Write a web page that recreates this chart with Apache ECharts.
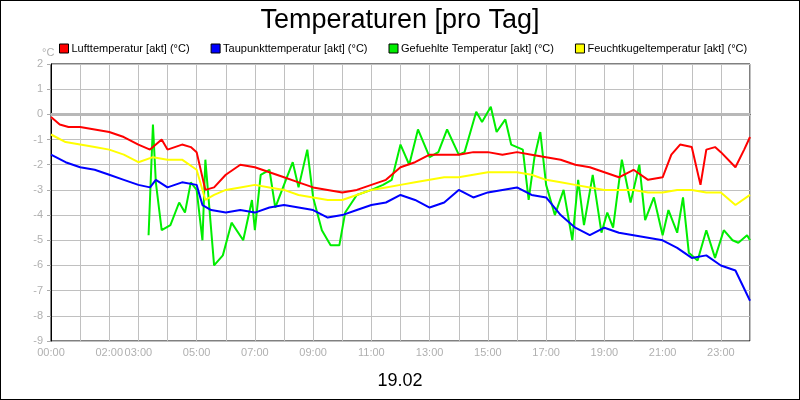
<!DOCTYPE html><html><head><meta charset="utf-8">
<script src="https://cdn.jsdelivr.net/npm/echarts@6/dist/echarts.min.js"></script>
<style>html,body{margin:0;padding:0;background:#fff}#c{width:800px;height:400px;box-sizing:border-box;border:1px solid #000}</style></head><body><div id="c"></div><script>
const title="Temperaturen [pro Tag]";
const dateLabel="19.02";
const xLabelHours=[0,2,3,5,7,9,11,13,15,17,19,21,23];
const seriesNames=["Lufttemperatur [akt] (°C)","Taupunkttemperatur [akt] (°C)","Gefuehlte Temperatur [akt] (°C)","Feuchtkugeltemperatur [akt] (°C)"];
const seriesColors=["#ff0000","#0000ff","#00ee00","#ffff00"];
const luftH=[0,0.3,0.6,1,1.5,2,2.5,3,3.4,3.8,4,4.5,4.8,5,5.3,5.6,6,6.5,7,7.5,8,8.5,9,9.5,10,10.5,11,11.5,12,12.5,13,13.5,14,14.5,15,15.5,16,16.5,17,17.5,18,18.5,19,19.5,20,20.5,21,21.3,21.6,22,22.3,22.5,22.8,23,23.5,23.8,24];
const luftV=[-0.1,-0.4,-0.5,-0.5,-0.6,-0.7,-0.9,-1.2,-1.4,-1.0,-1.4,-1.2,-1.3,-1.5,-3.0,-2.9,-2.4,-2.0,-2.1,-2.3,-2.5,-2.7,-2.9,-3.0,-3.1,-3.0,-2.8,-2.6,-2.1,-1.9,-1.6,-1.6,-1.6,-1.5,-1.5,-1.6,-1.5,-1.6,-1.7,-1.8,-2.0,-2.1,-2.3,-2.5,-2.2,-2.6,-2.5,-1.6,-1.2,-1.3,-2.8,-1.4,-1.3,-1.5,-2.1,-1.4,-0.9];
const tauH=[0,0.5,1,1.5,2,2.5,3,3.4,3.6,4,4.5,5,5.2,5.5,6,6.5,7,7.5,8,8.5,9,9.5,10,10.5,11,11.5,12,12.5,13,13.5,14,14.5,15,15.5,16,16.5,17,17.5,18,18.5,19,19.5,20,20.5,21,21.5,22,22.5,23,23.5,24];
const tauV=[-1.6,-1.9,-2.1,-2.2,-2.4,-2.6,-2.8,-2.9,-2.6,-2.9,-2.7,-2.8,-3.6,-3.8,-3.9,-3.8,-3.9,-3.7,-3.6,-3.7,-3.8,-4.1,-4.0,-3.8,-3.6,-3.5,-3.2,-3.4,-3.7,-3.5,-3.0,-3.3,-3.1,-3.0,-2.9,-3.2,-3.3,-4.0,-4.5,-4.8,-4.5,-4.7,-4.8,-4.9,-5.0,-5.3,-5.7,-5.6,-6.0,-6.2,-7.4];
const gefH=[3.35,3.5,3.6,3.8,4.1,4.4,4.6,4.8,5.0,5.2,5.3,5.6,5.9,6.2,6.6,6.9,7.0,7.2,7.5,7.7,8.0,8.3,8.5,8.8,9.0,9.3,9.6,9.9,10.1,10.5,11,11.4,11.7,12.0,12.3,12.6,13.0,13.3,13.6,14.0,14.2,14.4,14.6,14.8,15.1,15.3,15.6,15.8,16.2,16.4,16.6,16.8,17.0,17.3,17.6,17.9,18.1,18.3,18.6,18.9,19.1,19.3,19.6,19.9,20.2,20.4,20.7,21.0,21.2,21.5,21.7,21.9,22.2,22.5,22.8,23.1,23.4,23.6,23.9,24];
const gefV=[-4.8,-0.4,-2.7,-4.6,-4.4,-3.5,-3.9,-2.7,-3.0,-5.0,-1.8,-6.0,-5.6,-4.3,-5.0,-3.4,-4.6,-2.4,-2.2,-3.7,-2.8,-1.9,-2.9,-1.4,-3.3,-4.6,-5.2,-5.2,-3.9,-3.2,-3.0,-2.8,-2.6,-1.2,-2.0,-0.6,-1.7,-1.5,-0.6,-1.6,-1.5,-0.7,0.1,-0.3,0.3,-0.7,-0.2,-1.2,-1.4,-3.4,-1.7,-0.7,-2.8,-4.0,-3.0,-5.0,-2.6,-4.4,-2.4,-4.7,-3.9,-4.5,-1.8,-3.5,-2.0,-4.2,-3.3,-4.8,-3.8,-4.7,-3.3,-5.5,-5.8,-4.6,-5.7,-4.6,-5.0,-5.1,-4.8,-5.0];
const feuchtH=[0,0.5,1,1.5,2,2.5,3,3.5,4,4.5,5,5.3,5.6,6,6.5,7,7.5,8,8.5,9,9.5,10,10.5,11,11.5,12,12.5,13,13.5,14,14.5,15,15.5,16,16.5,17,17.5,18,18.5,19,19.5,20,20.5,21,21.5,22,22.5,23,23.5,24];
const feuchtV=[-0.8,-1.1,-1.2,-1.3,-1.4,-1.6,-1.9,-1.7,-1.8,-1.8,-2.2,-3.4,-3.2,-3.0,-2.9,-2.8,-2.9,-3.0,-3.2,-3.3,-3.4,-3.4,-3.2,-3.0,-2.9,-2.8,-2.7,-2.6,-2.5,-2.5,-2.4,-2.3,-2.3,-2.3,-2.4,-2.6,-2.7,-2.8,-2.9,-3.0,-3.0,-3.0,-3.1,-3.1,-3.0,-3.0,-3.1,-3.1,-3.6,-3.2];
const zip=(h,v)=>h.map((x,i)=>[x,v[i]]);
const allData=[zip(luftH,luftV),zip(tauH,tauV),zip(gefH,gefV),zip(feuchtH,feuchtV)];
const order=[2,3,1,0];
const ch=echarts.init(document.getElementById('c'));
const font="Liberation Sans";
ch.setOption({
 animation:false,
 textStyle:{fontFamily:font},
 title:[{text:title,left:'center',top:1,textStyle:{fontSize:27,fontWeight:'normal',color:'#000',fontFamily:font}},
  {text:dateLabel,left:'center',top:366,textStyle:{fontSize:18,fontWeight:'normal',color:'#000',fontFamily:font}},
  {text:'°C',left:36,top:41,textStyle:{fontSize:11,fontWeight:'normal',color:'#b0b0b0',fontFamily:font}}],
 legend:{top:37,left:53,itemWidth:9,itemHeight:9,itemGap:21,icon:'rect',
   data:seriesNames.map((n,i)=>({name:n,itemStyle:{color:seriesColors[i],borderColor:'#000',borderWidth:1}})),
   textStyle:{fontSize:11,color:'#000',fontFamily:font,padding:[0,0,0,-2]}},
 grid:{left:50,right:49,top:63,bottom:58,show:true,borderColor:'#000',borderWidth:1,containLabel:false},
 xAxis:{type:'value',min:0,max:24,interval:1,
  axisLine:{lineStyle:{color:'#000'}},axisTick:{show:true,length:5,lineStyle:{color:'#aaa'}},
  axisLabel:{color:'#b0b0b0',fontSize:11,margin:6,showMaxLabel:false,formatter:v=>xLabelHours.includes(v)?String(v).padStart(2,'0')+':00':''},
  splitLine:{lineStyle:{color:'#c0c0c0',width:1}}},
 yAxis:{type:'value',min:-9,max:2,interval:1,
  axisLine:{show:true,lineStyle:{color:'#000'}},axisTick:{show:true,length:4,inside:false,lineStyle:{color:'#aaa'}},
  axisLabel:{color:'#b0b0b0',fontSize:11,margin:8},
  splitLine:{lineStyle:{color:'#c0c0c0',width:1}}},
 series:[...order.map(i=>({name:seriesNames[i],type:'line',data:allData[i],showSymbol:false,
   lineStyle:{color:seriesColors[i],width:2},itemStyle:{color:seriesColors[i]},
   markLine:i===2?{silent:true,symbol:'none',label:{show:false},lineStyle:{color:'#b8b8b8',width:3,type:'solid'},data:[{yAxis:0}],z:1}:undefined}))]
});
</script></body></html>
